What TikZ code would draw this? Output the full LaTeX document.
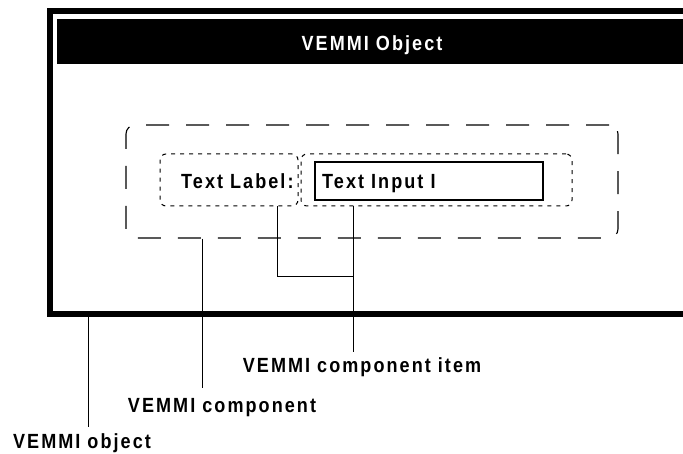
\documentclass[tikz,border=0pt]{standalone}
\usepackage{fontspec}
\newfontfamily\lblfont[FakeStretch=0.88,LetterSpace=10]{Liberation Sans}
\begin{document}
\begin{tikzpicture}[x=1pt,y=-1pt,
  lbl/.style={font=\lblfont\bfseries\fontsize{20.5}{24}\selectfont, inner sep=0pt, anchor=base},
  compbox/.style={draw, line width=1.1pt, dash pattern=on 23pt off 17pt, rounded corners=9pt, inner sep=0pt},
  itembox/.style={draw, line width=1pt, dash pattern=on 4pt off 5pt, rounded corners=6pt, inner sep=0pt},
  inputbox/.style={draw, line width=1.4pt, inner sep=0pt},
  conn/.style={line width=0.9pt}
]
\useasboundingbox (0,0) rectangle (683,454);

% outer object frame, open to the right
\draw[line width=5.5pt] (690,11) -- (50,11) -- (50,314) -- (690,314);
% title bar
\fill[black] (56.7,19.3) rectangle (690,64.3);
\node[lbl, text=white] (title) at (372,51) {VEMMI Object};

% component (large dashed box)
\node[compbox, minimum width=492pt, minimum height=113pt] (comp) at (372,181.5) {};
% component items (dotted boxes)
\node[itembox, minimum width=138pt, minimum height=52pt] (lbox) at (229,180) {};
\node[itembox, minimum width=271pt, minimum height=52pt] (ibox) at (436.5,180) {};
% text input field
\node[inputbox, minimum width=228pt, minimum height=38pt] (input) at (429,181) {};

\node[lbl, anchor=base west] (labeltext) at (181,189) {Text Label:};
\node[lbl, anchor=base west] (inputtext) at (322,189) {Text Input I};

% callout labels
\node[lbl] (itemlbl) at (362,373) {VEMMI component item};
\node[lbl] (complbl) at (222,412) {VEMMI component};
\node[lbl] (objlbl) at (82,448) {VEMMI object};

% connector ends and joints
\coordinate (j1) at (277,276);
\coordinate (e1) at (353,352);
\coordinate (e2) at (202,388);
\coordinate (fb) at (88,316.7);
\coordinate (e3) at (88,427);

\draw[conn] (lbox.south -| j1) -- (j1) -- (j1 -| e1);
\draw[conn] (ibox.south -| e1) -- (e1);
\draw[conn] (comp.south -| e2) -- (e2);
\draw[conn] (fb) -- (e3);
\end{tikzpicture}
\end{document}
